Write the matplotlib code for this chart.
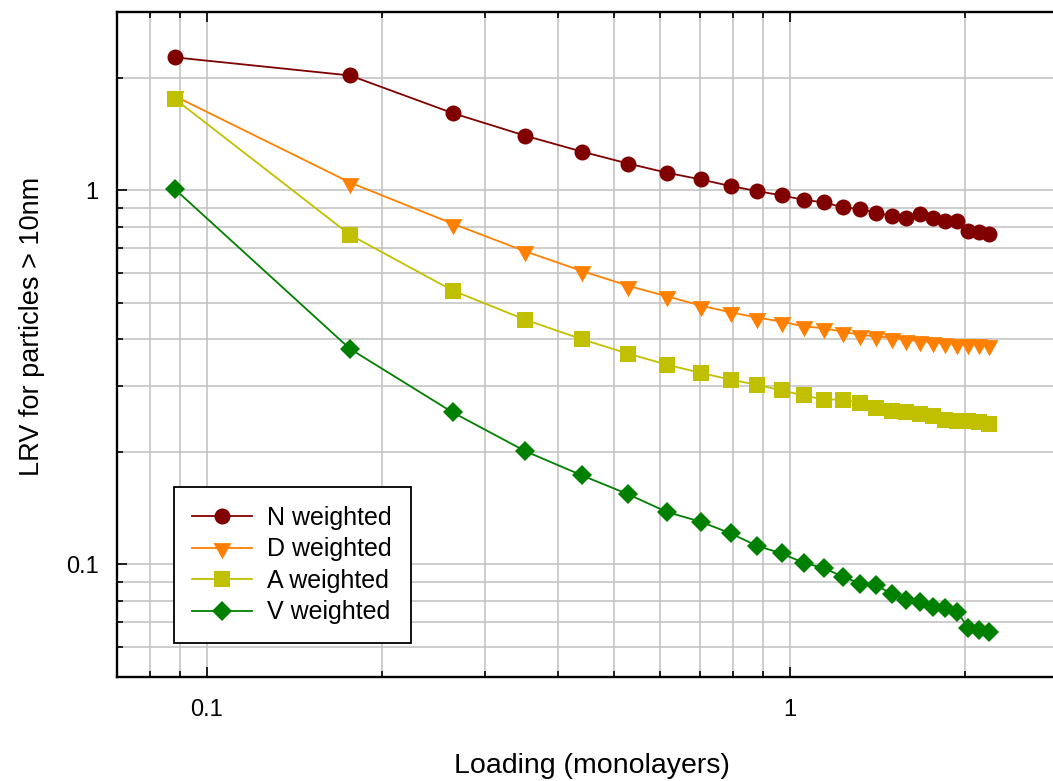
import matplotlib
matplotlib.use("Agg")
import matplotlib.pyplot as plt
import numpy as np
from matplotlib.path import Path
from matplotlib.ticker import NullFormatter

plt.rcParams['font.family'] = ['Liberation Sans', 'DejaVu Sans']

# loading in monolayers (25 steps)
loading = [0.088, 0.176, 0.264, 0.352, 0.44, 0.528, 0.616, 0.704, 0.792, 0.88,
           0.968, 1.056, 1.144, 1.232, 1.32, 1.408, 1.496, 1.584, 1.672, 1.76,
           1.848, 1.936, 2.024, 2.112, 2.2]

n_weighted = [2.27, 2.03, 1.61, 1.40, 1.27, 1.18, 1.115, 1.07, 1.027, 0.996,
              0.970, 0.944, 0.929, 0.902, 0.891, 0.872, 0.854, 0.845, 0.863, 0.843,
              0.831, 0.826, 0.778, 0.772, 0.764]
d_weighted = [1.79, 1.05, 0.815, 0.687, 0.609, 0.556, 0.521, 0.492, 0.472, 0.457,
              0.446, 0.433, 0.428, 0.419, 0.411, 0.407, 0.404, 0.399, 0.395, 0.393,
              0.391, 0.389, 0.389, 0.388, 0.387]
a_weighted = [1.76, 0.761, 0.540, 0.451, 0.400, 0.366, 0.342, 0.325, 0.312, 0.302,
              0.292, 0.283, 0.276, 0.276, 0.270, 0.262, 0.257, 0.256, 0.253, 0.249,
              0.243, 0.242, 0.242, 0.241, 0.238]
v_weighted = [1.01, 0.377, 0.255, 0.2007, 0.173, 0.154, 0.138, 0.130, 0.121, 0.112,
              0.107, 0.101, 0.0977, 0.0928, 0.0889, 0.0879, 0.0834, 0.0805, 0.0794, 0.0770,
              0.0763, 0.0748, 0.0676, 0.0667, 0.0660]

labels = ['N weighted', 'D weighted', 'A weighted', 'V weighted']
colors = ['#800000', '#FF8000', '#C0C000', '#008000']

# down triangle centred on its centroid
tri_down = Path([(-1, 0.6), (1, 0.6), (0, -1.2), (-1, 0.6)],
                [Path.MOVETO, Path.LINETO, Path.LINETO, Path.CLOSEPOLY])

fig = plt.figure(figsize=(10.53, 7.81), dpi=100)
ax = fig.add_axes([0.1107, 0.1332, 0.9035, 0.8514])

series = [n_weighted, d_weighted, a_weighted, v_weighted]
markers = ['o', tri_down, 's', 'D']
msizes = [11.5, 15.5, 11.5, 10.5]
for ys, lab, c, m, ms in zip(series, labels, colors, markers, msizes):
    ax.plot(loading, ys, color=c, lw=1.3, marker=m, ms=ms,
            markeredgewidth=0, label=lab)

ax.set_xscale('log')
ax.set_yscale('log')
ax.set_xlim(0.07, 3.0)
ax.set_ylim(0.05, 3.0)

ax.set_xticks([0.1, 1])
ax.set_xticklabels(['0.1', '1'], fontsize=17)
ax.set_yticks([0.1, 1])
ax.set_yticklabels(['0.1', '1'], fontsize=17)
ax.xaxis.set_minor_formatter(NullFormatter())
ax.yaxis.set_minor_formatter(NullFormatter())

ax.tick_params(which='both', direction='in', top=True, right=True, width=1.2)
ax.tick_params(which='major', length=7.5)
ax.tick_params(which='minor', length=4.5)
ax.tick_params(axis='x', which='major', pad=16)
ax.tick_params(axis='y', which='major', pad=13)

ax.grid(True, which='both', color='#C0C0C0', lw=1.1)
ax.set_axisbelow(True)
for sp in ax.spines.values():
    sp.set_linewidth(1.7)

ax.set_xlabel('Loading (monolayers)', fontsize=20.5)
ax.set_ylabel('LRV for particles > 10nm', fontsize=19.5)
ax.xaxis.set_label_coords(0.5, -0.115)
ax.yaxis.set_label_coords(-0.075, 0.527)

leg = ax.legend(loc='lower left', bbox_to_anchor=(0.06, 0.051), borderaxespad=0,
                fontsize=18, handlelength=2.4, handletextpad=0.6,
                labelspacing=0.3, borderpad=0.75, fancybox=False, framealpha=1)
leg.get_frame().set_edgecolor('black')
leg.get_frame().set_linewidth(1.3)

fig.savefig('out.png', dpi=100)
